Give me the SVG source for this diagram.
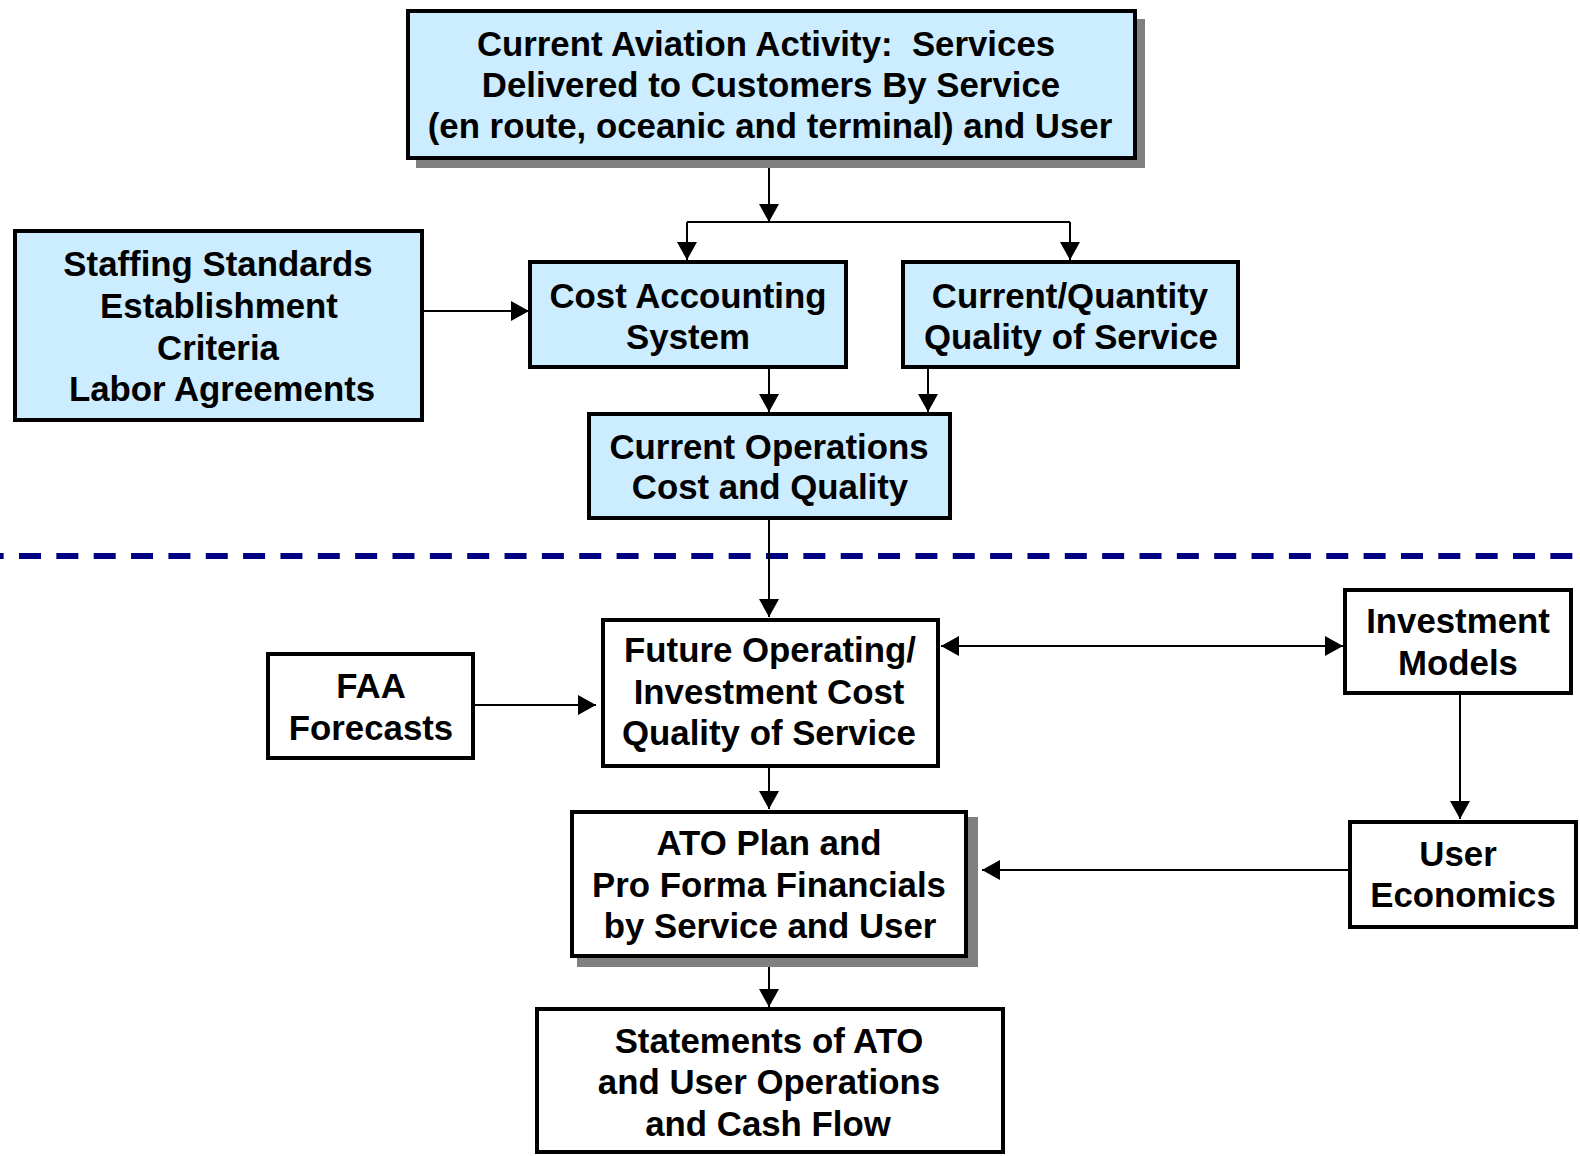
<svg xmlns="http://www.w3.org/2000/svg" width="1580" height="1156" viewBox="0 0 1580 1156">
<defs>
<marker id="arr" markerUnits="userSpaceOnUse" markerWidth="18" markerHeight="20" viewBox="0 0 18 20" refX="18" refY="10" orient="auto-start-reverse">
<path d="M0,0 L18,10 L0,20 Z" fill="#000"/>
</marker>
</defs>
<style>
.box{stroke:#000;stroke-width:4}
.blue{fill:#CCECFF}
.white{fill:#FFFFFF}
.shadow{fill:#808080}
.t{font-family:"Liberation Sans",Arial,sans-serif;font-weight:bold;font-size:34.8px;fill:#000;text-anchor:middle}
.c{fill:none;stroke:#000;stroke-width:2}
.a{marker-end:url(#arr)}
</style>
<rect width="1580" height="1156" fill="#FFFFFF"/>
<line x1="0" y1="556" x2="1580" y2="556" stroke="#000080" stroke-width="6" stroke-dasharray="22 15.35" stroke-dashoffset="18.35"/>
<g id="connectors">
<path class="c a" d="M769,159 V222"/>
<path class="c" d="M687,222 H1070"/>
<path class="c a" d="M687,222 V260"/>
<path class="c a" d="M1070,222 V260"/>
<path class="c a" d="M424,311 H529"/>
<path class="c a" d="M769,369 V412"/>
<path class="c a" d="M928,369 V412"/>
<path class="c a" d="M769,520 V617"/>
<path class="c a" d="M475,705 H596"/>
<path class="c a" d="M941,646 H1343" marker-start="url(#arr)"/>
<path class="c a" d="M1460,695 V819"/>
<path class="c a" d="M1348,870 H982"/>
<path class="c a" d="M769,768 V809"/>
<path class="c a" d="M769,958 V1007"/>
</g>
<g id="n-activity">
<rect class="shadow" x="416" y="19" width="729" height="149"/>
<rect class="box blue" x="408" y="11" width="727" height="147"/>
<text class="t" x="766" y="56" xml:space="preserve">Current Aviation Activity:  Services</text>
<text class="t" x="771" y="97">Delivered to Customers By Service</text>
<text class="t" x="770" y="138">(en route, oceanic and terminal) and User</text>
</g>
<g id="n-staffing">
<rect class="box blue" x="15" y="231" width="407" height="189"/>
<text class="t" x="218" y="276">Staffing Standards</text>
<text class="t" x="219" y="318">Establishment</text>
<text class="t" x="218" y="360">Criteria</text>
<text class="t" x="222" y="401">Labor Agreements</text>
</g>
<g id="n-cost-accounting">
<rect class="box blue" x="530" y="262" width="316" height="105"/>
<text class="t" x="688" y="308">Cost Accounting</text>
<text class="t" x="688" y="349">System</text>
</g>
<g id="n-quality">
<rect class="box blue" x="903" y="262" width="335" height="105"/>
<text class="t" x="1070" y="308">Current/Quantity</text>
<text class="t" x="1071" y="349">Quality of Service</text>
</g>
<g id="n-current-ops">
<rect class="box blue" x="589" y="414" width="361" height="104"/>
<text class="t" x="769" y="459">Current Operations</text>
<text class="t" x="770" y="499">Cost and Quality</text>
</g>
<g id="n-future">
<rect class="box white" x="603" y="620" width="335" height="146"/>
<text class="t" x="770" y="662">Future Operating/</text>
<text class="t" x="769" y="704">Investment Cost</text>
<text class="t" x="769" y="745">Quality of Service</text>
</g>
<g id="n-faa">
<rect class="box white" x="268" y="654" width="205" height="104"/>
<text class="t" x="371" y="698">FAA</text>
<text class="t" x="371" y="740">Forecasts</text>
</g>
<g id="n-investment">
<rect class="box white" x="1345" y="590" width="226" height="103"/>
<text class="t" x="1458" y="633">Investment</text>
<text class="t" x="1458" y="675">Models</text>
</g>
<g id="n-user-econ">
<rect class="box white" x="1350" y="822" width="226" height="105"/>
<text class="t" x="1458" y="866">User</text>
<text class="t" x="1463" y="907">Economics</text>
</g>
<g id="n-ato">
<rect class="shadow" x="577" y="817" width="401" height="150"/>
<rect class="box white" x="572" y="812" width="394" height="144"/>
<text class="t" x="769" y="855">ATO Plan and</text>
<text class="t" x="769" y="897">Pro Forma Financials</text>
<text class="t" x="770" y="938">by Service and User</text>
</g>
<g id="n-statements">
<rect class="box white" x="537" y="1009" width="466" height="143"/>
<text class="t" x="769" y="1053">Statements of ATO</text>
<text class="t" x="769" y="1094">and User Operations</text>
<text class="t" x="768" y="1136">and Cash Flow</text>
</g>
</svg>
